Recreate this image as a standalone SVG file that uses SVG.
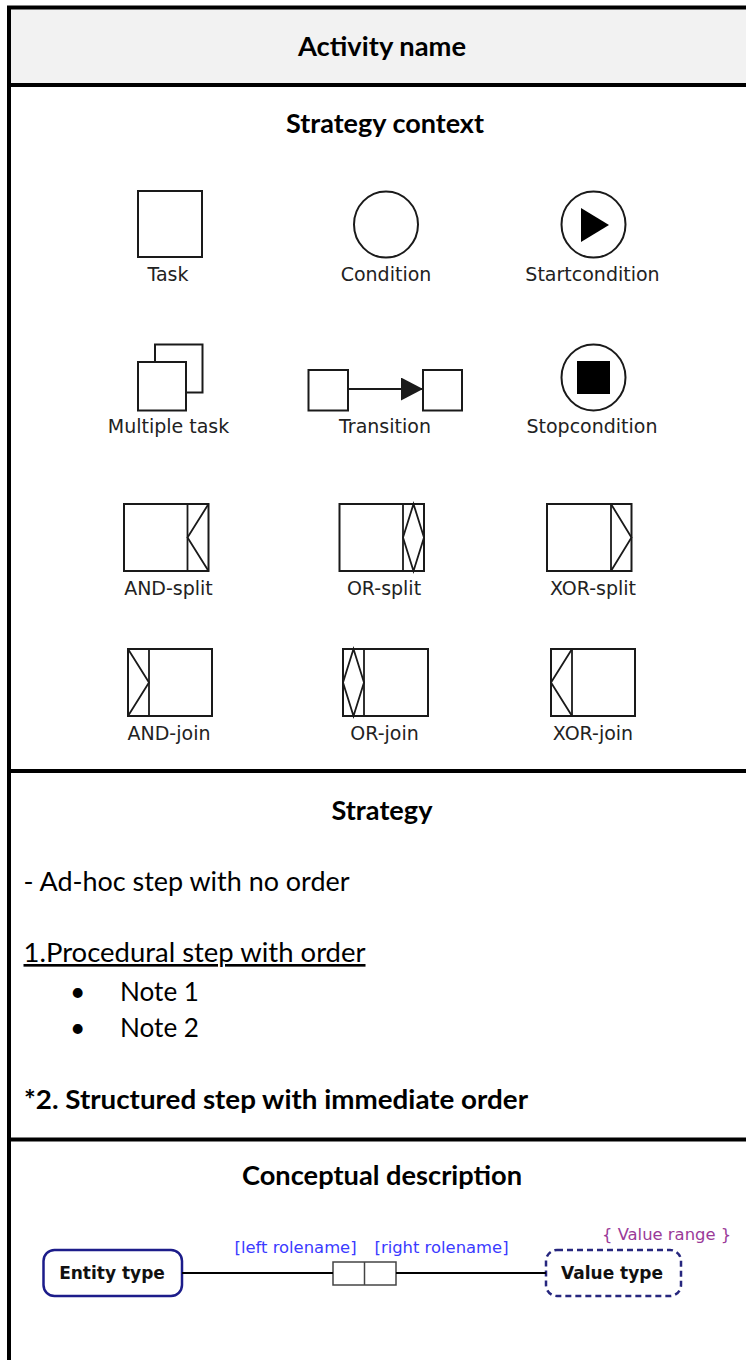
<svg xmlns="http://www.w3.org/2000/svg" width="746" height="1360" viewBox="0 0 746 1360">
  <style>
    .head { font-family: Lato, "Liberation Sans", sans-serif; font-weight: 700; font-size: 26.5px; fill: #000; }
    .body { font-family: Lato, "Liberation Sans", sans-serif; font-size: 26.5px; fill: #000; }
    .bold { font-family: Lato, "Liberation Sans", sans-serif; font-weight: 700; font-size: 26.5px; fill: #000; }
    .rule { stroke: #000; stroke-width: 4; fill: none; }
    .sym { fill: #fff; stroke: #1a1a1a; stroke-width: 2; }
    .symline { fill: none; stroke: #1a1a1a; stroke-width: 1.8; stroke-linejoin: miter; }
    .lbl { font-family: "DejaVu Sans", Verdana, sans-serif; font-size: 19px; fill: #222; text-anchor: middle; }
    .node-text { font-family: "DejaVu Sans", Verdana, sans-serif; font-weight: 700; font-size: 17px; fill: #111; text-anchor: middle; }
    .role { font-family: "DejaVu Sans", Verdana, sans-serif; font-size: 16.4px; fill: #3b3bff; }
    .range { font-family: "DejaVu Sans", Verdana, sans-serif; font-size: 16.4px; fill: #9a3a98; }
  </style>
  <defs>
    <marker id="tri" viewBox="0 0 22 23" refX="22" refY="11.5" markerWidth="22" markerHeight="23" markerUnits="userSpaceOnUse" orient="auto">
      <path d="M0,0 L22,11.5 L0,23 Z" fill="#1a1a1a"/>
    </marker>
  </defs>

  <!-- table frame -->
  <g id="table">
    <rect x="9" y="9" width="737" height="74" fill="#f2f2f2"/>
    <line class="rule" x1="7" y1="7.5" x2="746" y2="7.5" stroke-width="3"/>
    <line class="rule" x1="9" y1="6" x2="9" y2="1360"/>
    <line class="rule" x1="7" y1="85" x2="746" y2="85"/>
    <line class="rule" x1="7" y1="771" x2="746" y2="771"/>
    <line class="rule" x1="7" y1="1139.5" x2="746" y2="1139.5"/>
  </g>

  <!-- section headings -->
  <g id="headings">
    <text class="head" x="382" y="56" text-anchor="middle" textLength="168" lengthAdjust="spacingAndGlyphs">Activity name</text>
    <text class="head" x="385" y="133" text-anchor="middle" textLength="198" lengthAdjust="spacingAndGlyphs">Strategy context</text>
    <text class="head" x="382" y="820" text-anchor="middle" textLength="101" lengthAdjust="spacingAndGlyphs">Strategy</text>
    <text class="head" x="382" y="1185" text-anchor="middle" textLength="280" lengthAdjust="spacingAndGlyphs">Conceptual description</text>
  </g>

  <!-- strategy notes -->
  <g id="strategy-text">
    <text class="body" x="23.5" y="891" textLength="326" lengthAdjust="spacingAndGlyphs">- Ad-hoc step with no order</text>
    <text class="body" x="23.5" y="962" textLength="342" lengthAdjust="spacingAndGlyphs" text-decoration="underline">1.Procedural step with order</text>
    <text class="body" x="70" y="1001">•</text>
    <text class="body" x="120" y="1001" textLength="79" lengthAdjust="spacingAndGlyphs">Note 1</text>
    <text class="body" x="70" y="1037">•</text>
    <text class="body" x="120" y="1037" textLength="79" lengthAdjust="spacingAndGlyphs">Note 2</text>
    <text class="bold" x="24" y="1109" textLength="504" lengthAdjust="spacingAndGlyphs">*2. Structured step with immediate order</text>
  </g>

  <!-- legend: row 1 -->
  <g id="task">
    <rect class="sym" x="138" y="191" width="64" height="66"/>
    <text class="lbl" x="168" y="281">Task</text>
  </g>
  <g id="condition">
    <ellipse class="sym" cx="386" cy="224.5" rx="32" ry="33"/>
    <text class="lbl" x="386" y="281">Condition</text>
  </g>
  <g id="startcondition">
    <ellipse class="sym" cx="593.5" cy="224.5" rx="32" ry="33"/>
    <path d="M581,208 L609,225 L581,242 Z" fill="#000"/>
    <text class="lbl" x="592.5" y="281">Startcondition</text>
  </g>

  <!-- legend: row 2 -->
  <g id="multiple-task">
    <rect class="sym" x="155" y="344.5" width="47.5" height="48"/>
    <rect class="sym" x="138" y="362" width="48" height="48.5"/>
    <text class="lbl" x="168.5" y="433">Multiple task</text>
  </g>
  <g id="transition">
    <rect class="sym" x="308.5" y="370" width="39.5" height="40.5"/>
    <rect class="sym" x="423" y="370" width="39" height="40.5"/>
    <text class="lbl" x="385" y="433">Transition</text>
  </g>
  <g id="stopcondition">
    <ellipse class="sym" cx="593.5" cy="377.5" rx="32" ry="33"/>
    <rect x="577" y="361" width="33" height="33" fill="#000"/>
    <text class="lbl" x="592" y="433">Stopcondition</text>
  </g>

  <!-- legend: row 3, splits -->
  <g id="and-split">
    <rect class="sym" x="124" y="504" width="84.5" height="67"/>
    <line class="symline" x1="187.5" y1="504" x2="187.5" y2="571"/>
    <polyline class="symline" points="208.5,504 187.5,537.5 208.5,571"/>
    <text class="lbl" x="168.5" y="595">AND-split</text>
  </g>
  <g id="or-split">
    <rect class="sym" x="339.5" y="504" width="84.5" height="67"/>
    <line class="symline" x1="403" y1="504" x2="403" y2="571"/>
    <polygon class="symline" points="413.5,504 403,537.5 413.5,571 424,537.5"/>
    <text class="lbl" x="384" y="595">OR-split</text>
  </g>
  <g id="xor-split">
    <rect class="sym" x="547" y="504" width="84.5" height="67"/>
    <line class="symline" x1="611" y1="504" x2="611" y2="571"/>
    <polyline class="symline" points="611,504 631.5,537.5 611,571"/>
    <text class="lbl" x="593" y="595">XOR-split</text>
  </g>

  <!-- legend: row 4, joins -->
  <g id="and-join">
    <rect class="sym" x="128" y="649" width="84" height="67"/>
    <line class="symline" x1="149" y1="649" x2="149" y2="716"/>
    <polyline class="symline" points="128,649 149,682.5 128,716"/>
    <text class="lbl" x="169" y="740">AND-join</text>
  </g>
  <g id="or-join">
    <rect class="sym" x="343" y="649" width="85" height="67"/>
    <line class="symline" x1="364" y1="649" x2="364" y2="716"/>
    <polygon class="symline" points="353.5,649 364,682.5 353.5,716 343,682.5"/>
    <text class="lbl" x="384.5" y="740">OR-join</text>
  </g>
  <g id="xor-join">
    <rect class="sym" x="551" y="649" width="84" height="67"/>
    <line class="symline" x1="572" y1="649" x2="572" y2="716"/>
    <polyline class="symline" points="572,649 551,682.5 572,716"/>
    <text class="lbl" x="593" y="740">XOR-join</text>
  </g>

  <!-- conceptual model nodes -->
  <g id="entity-type">
    <rect x="43.5" y="1250" width="138.5" height="46" rx="11" fill="#fff" stroke="#1c1c8a" stroke-width="2.5"/>
    <text class="node-text" x="112" y="1279">Entity type</text>
  </g>
  <g id="fact-type">
    <rect x="333" y="1262" width="63" height="23" fill="#fff" stroke="#444" stroke-width="1.5"/>
    <line x1="364.5" y1="1262" x2="364.5" y2="1285" stroke="#444" stroke-width="1.5"/>
    <text class="role" x="234.5" y="1253">[left rolename]</text>
    <text class="role" x="374.5" y="1253">[right rolename]</text>
  </g>
  <g id="value-type">
    <rect x="546" y="1250" width="135" height="46" rx="11" fill="#fff" stroke="#26267e" stroke-width="2.5" stroke-dasharray="6 4"/>
    <text class="node-text" x="612" y="1279">Value type</text>
    <text class="range" x="602" y="1240">{ Value range }</text>
  </g>

  <!-- connectors -->
  <g id="connectors">
    <line x1="348" y1="389" x2="423" y2="389" stroke="#1a1a1a" stroke-width="1.8" marker-end="url(#tri)"/>
    <line x1="182" y1="1273" x2="333" y2="1273" stroke="#000" stroke-width="2"/>
    <line x1="396" y1="1273" x2="546" y2="1273" stroke="#000" stroke-width="2"/>
  </g>
</svg>
